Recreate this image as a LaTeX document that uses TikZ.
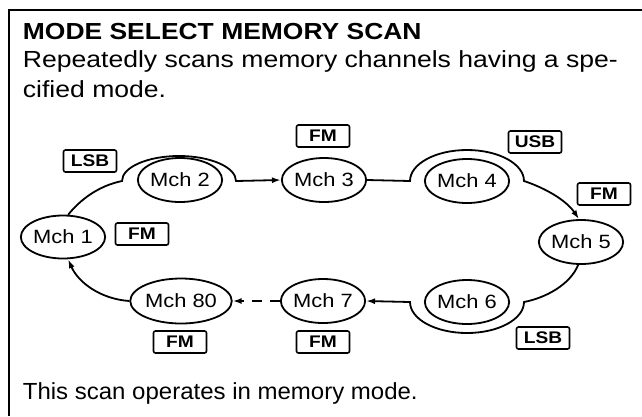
\documentclass[tikz,border=0pt]{standalone}
\usepackage{fontspec}
\setmainfont{Liberation Sans}[BoldFont={Liberation Sans Bold}]
\newfontfamily\wide[FakeStretch=1.14,BoldFont={Liberation Sans Bold}]{Liberation Sans}
\newfontfamily\footfont[FakeStretch=1.03,BoldFont={Liberation Sans Bold}]{Liberation Sans}
\usetikzlibrary{arrows.meta,shapes.geometric}
\begin{document}
\begin{tikzpicture}[x=1pt,y=-1pt,line width=1.8pt,
  mch/.style={draw,ellipse,minimum width=84pt,minimum height=44pt,inner sep=0pt,
    font=\wide\fontsize{19.2}{19.2}\selectfont},
  tag/.style={draw,rounded corners=2pt,minimum width=53pt,minimum height=22pt,inner sep=0pt,
    line width=1.6pt,font=\wide\bfseries\fontsize{16.8}{16.8}\selectfont},
  txt/.style={anchor=base west,inner sep=0pt,font=\wide\fontsize{23.3}{23.3}\selectfont},
  arr/.style={-{Latex[length=9pt,width=6pt]}}]
\useasboundingbox (0,0) rectangle (642,416);
% frame
\draw[line width=2pt] (9,416) -- (9,10) -- (642,10);
% texts
\node[txt,font=\wide\bfseries\fontsize{23.2}{23.2}\selectfont] (title) at (22,39) {MODE SELECT MEMORY SCAN};
\node[txt] (l1) at (22,67) {Repeatedly scans memory channels having a spe-};
\node[txt] (l2) at (22,97) {cified mode.};
\node[txt,font=\footfont\fontsize{23.3}{23.3}\selectfont] (foot) at (22,399) {This scan operates in memory mode.};
% channels
\node[mch,minimum width=80pt,minimum height=43pt] (m1) at (63,237) {Mch 1};
\node[mch] (m2) at (180,180) {Mch 2};
\node[mch] (m3) at (324,180) {Mch 3};
\node[mch] (m4) at (467,181) {Mch 4};
\node[mch] (m5) at (581,242) {Mch 5};
\node[mch] (m6) at (467,302) {Mch 6};
\node[mch] (m7) at (323,301) {Mch 7};
\node[mch,minimum width=88pt,minimum height=45pt] (m80) at (181,301) {Mch 80};
% tags
\node[tag] (t1) at (90,161) {LSB};
\node[tag] (t2) at (323,136) {FM};
\node[tag] (t3) at (535,142) {USB};
\node[tag] (t4) at (604,194) {FM};
\node[tag] (t5) at (142,234) {FM};
\node[tag] (t6) at (180,342) {FM};
\node[tag] (t7) at (323,342) {FM};
\node[tag] (t8) at (543,338) {LSB};
% connectors
\draw[arr] (m1.77) .. controls (80,200) and (98,186) .. (122,181)
  arc[start angle=180,end angle=360,x radius=57,y radius=25] -- (m3.west);
\draw[arr] (m3.east) -- (410,181)
  arc[start angle=180,end angle=360,x radius=57,y radius=31]
  .. controls (545,188) and (566,200) .. (m5.95);
\draw[arr] (m5.263) .. controls (570,285) and (545,298) .. (524,302)
  arc[start angle=0,end angle=180,x radius=57,y radius=31] -- (m7.east);
\draw[arr,dash pattern=on 10pt off 8pt] (m7.west) -- (m80.east);
\draw[arr] (m80.west) .. controls (100,299) and (78,282) .. (m1.-77);
\end{tikzpicture}
\end{document}
